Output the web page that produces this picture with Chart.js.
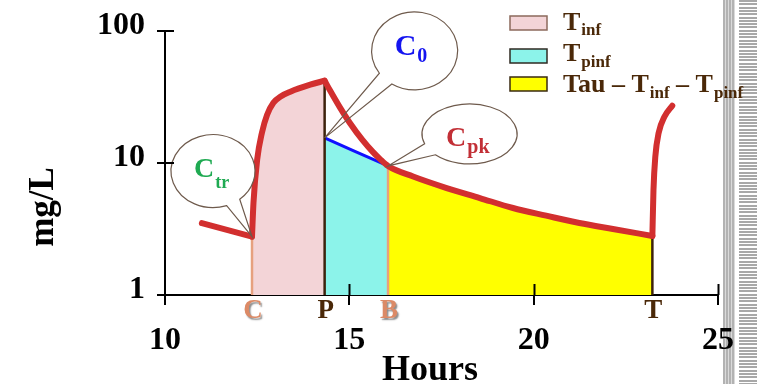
<!DOCTYPE html>
<html>
<head>
<meta charset="utf-8">
<script src="https://cdn.jsdelivr.net/npm/chart.js@4/dist/chart.umd.min.js"></script>
<style>
body { margin: 0; background: #fff; }
#wrap { position: relative; width: 757px; height: 384px; }
#stripe_v { position: absolute; left: 723px; top: 0; width: 12px; height: 384px;
    background: repeating-linear-gradient(to right, #b2b2b2 0 2px, #dadada 2px 3px); }
#stripe_h { position: absolute; left: 739px; top: 0; width: 18px; height: 384px;
    background: repeating-linear-gradient(to bottom, #a8a8a8 0 2px, #fff 2px 3.3px); }
#chart { position: absolute; left: 0; top: 0; }
</style>
</head>
<body>
<div id="wrap">
    <div id="stripe_v"></div>
    <div id="stripe_h"></div>
    <canvas id="chart" width="757" height="384"></canvas>
</div>
<script>
// Concentration curve (hours, mg/L)
const curve_hours = [11.0, 12.36, 12.40, 12.50, 12.63, 12.77, 12.94, 13.15, 13.40, 13.94, 14.33,
                     14.47, 14.74, 15.01, 15.36, 15.63, 15.82, 16.05, 16.73, 17.64, 18.54,
                     19.44, 20.34, 21.24, 22.15, 23.22, 23.25, 23.30, 23.39, 23.55, 23.76];
const curve_conc  = [3.5, 2.77, 5.0, 10.6, 17.0, 23.2, 28.6, 32.1, 34.7, 39.2, 42.0,
                     35.7, 26.5, 20.2, 14.9, 12.2, 10.8, 9.5, 7.9, 6.46, 5.43,
                     4.56, 3.99, 3.51, 3.16, 2.8, 6.26, 11.2, 16.9, 22.5, 27.2];

// Marked times on the x axis and the height of their vertical lines
const mark_labels = ['C', 'P', 'B', 'T'];
const mark_hours  = [12.36, 14.33, 16.05, 23.22];
const mark_conc   = [2.77, 42.0, 9.5, 2.8];

// Back-extrapolated line C0 -> Cpk
const c0  = 15.5;
const cpk = 9.5;
const ctr = 2.77;

// Axis ticks
const x_ticks = [10, 15, 20, 25];
const y_ticks = [1, 10, 100];

const serif = '"Liberation Serif", "Times New Roman", serif';

function pts(hs, cs) {
    return hs.map(function (h, i) { return {x: h, y: cs[i]}; });
}
function between(a, b) {
    return all_pts.filter(p => p.x >= a && p.x <= b);
}
const all_pts  = pts(curve_hours, curve_conc);
const inf_pts  = between(mark_hours[0], mark_hours[1]);
const tail_pts = between(mark_hours[2], mark_hours[3]);
const pinf_pts = [{x: mark_hours[1], y: c0}, {x: mark_hours[2], y: cpk}];

// red curve pieces: trough, infusion, decay, next dose
const pieces = [
    between(curve_hours[0], mark_hours[0]),
    inf_pts,
    between(mark_hours[1], mark_hours[3]),
    between(mark_hours[3], curve_hours[curve_hours.length - 1])
];

const mark_colors = ['#e6a07e', '#3d220c', '#e6a07e', '#3d220c'];
const mark_text_colors = ['#dc8a66', '#4a2808', '#dc8a66', '#4a2808'];

let datasets = [
    {data: inf_pts, fill: 'start', backgroundColor: '#f3d4d7', borderWidth: 0, order: 5},
    {data: tail_pts, fill: 'start', backgroundColor: '#ffff00', borderWidth: 0, order: 5},
    {data: pinf_pts, fill: 'start', backgroundColor: '#8cf3ea', borderColor: '#1010ff', borderWidth: 3, order: 4},
];
mark_hours.forEach(function (h, i) {
    datasets.push({
        data: [{x: h, y: 1}, {x: h, y: mark_conc[i]}],
        borderColor: mark_colors[i], borderWidth: 2.5, fill: false, order: 3
    });
});
pieces.forEach(function (p) {
    datasets.push({
        data: p, borderColor: '#d22f2f', borderWidth: 6, fill: false, order: 1,
        borderJoinStyle: 'round', borderCapStyle: 'round'
    });
});

// Speech bubbles: anchored on data points, offsets in pixels
const bubbles = [
    {h: mark_hours[0], c: ctr, dx: -39, dy: -65.5, rx: 42, ry: 36.5, a1: 71, a2: 50.5,
     sub: 'tr', color: '#1faa52', size: 28, sub_size: 18, tx: -19, ty: 5.5, sy: 16.5},
    {h: mark_hours[1], c: c0, dx: 90, dy: -87, rx: 43, ry: 39, a1: 145, a2: 122,
     sub: '0', color: '#1414f0', size: 30, sub_size: 20, tx: -20, ty: 4, sy: 11},
    {h: mark_hours[2], c: cpk, dx: 81.5, dy: -32, rx: 47.5, ry: 30, a1: 161, a2: 136,
     sub: 'pk', color: '#c22f36', size: 28, sub_size: 20, tx: -23.5, ty: 12, sy: 19},
];

function draw_runs(ctx, x, y, runs, color) {
    ctx.fillStyle = color;
    ctx.textAlign = 'left';
    ctx.textBaseline = 'alphabetic';
    runs.forEach(function (r) {
        ctx.font = 'bold ' + r[1] + 'px ' + serif;
        ctx.fillText(r[0], x, y + r[2]);
        x += ctx.measureText(r[0]).width + (r[3] || 0);
    });
}

function draw_bubble(ctx, tx, ty, b) {
    const cx = tx + b.dx, cy = ty + b.dy;
    ctx.beginPath();
    ctx.ellipse(cx, cy, b.rx, b.ry, 0, 0, 2 * Math.PI);
    ctx.fillStyle = '#fff';
    ctx.fill();
    ctx.beginPath();
    ctx.ellipse(cx, cy, b.rx, b.ry, 0, b.a1 * Math.PI / 180, b.a2 * Math.PI / 180, false);
    ctx.lineTo(tx, ty);
    ctx.closePath();
    ctx.strokeStyle = '#6e5a4c';
    ctx.lineWidth = 1.2;
    ctx.stroke();
    draw_runs(ctx, cx + b.tx, cy + b.ty, [['C', b.size, 0, 1], [b.sub, b.sub_size, b.sy - b.ty]], b.color);
}

const extras = {
    id: 'extras',
    afterDatasetsDraw(chart) {
        const ctx = chart.ctx;
        const xs = chart.scales.x, ys = chart.scales.y;
        const area = chart.chartArea;
        ctx.save();

        // callouts
        bubbles.forEach(function (b) {
            draw_bubble(ctx, xs.getPixelForValue(b.h), ys.getPixelForValue(b.c), b);
        });

        // inner half of the tick marks
        ctx.strokeStyle = '#000';
        ctx.lineWidth = 2;
        x_ticks.slice(1).forEach(function (v) {
            const px = Math.round(xs.getPixelForValue(v)) + 0.5;
            ctx.beginPath(); ctx.moveTo(px, area.bottom); ctx.lineTo(px, area.bottom - 11); ctx.stroke();
        });
        y_ticks.forEach(function (v) {
            const py = Math.round(ys.getPixelForValue(v));
            ctx.beginPath(); ctx.moveTo(area.left, py); ctx.lineTo(area.left + 9, py); ctx.stroke();
        });

        // letters under the x axis
        ctx.font = 'bold 27px ' + serif;
        ctx.textAlign = 'center';
        ctx.textBaseline = 'alphabetic';
        mark_labels.forEach(function (t, i) {
            ctx.save();
            if (i % 2 == 0) {
                ctx.shadowColor = 'rgba(0,0,0,0.45)';
                ctx.shadowOffsetX = 1.5; ctx.shadowOffsetY = 1.5; ctx.shadowBlur = 1.5;
            }
            ctx.fillStyle = mark_text_colors[i];
            ctx.fillText(t, xs.getPixelForValue(mark_hours[i]) + 1, area.bottom + 23);
            ctx.restore();
        });

        // legend
        const box_fill = ['#f3d4d7', '#8cf3ea', '#ffff00'];
        const box_line = ['#8c6a5c', '#2f2a22', '#3a2a10'];
        const box_top = [16, 49, 77];
        box_top.forEach(function (y, i) {
            ctx.fillStyle = box_fill[i];
            ctx.fillRect(510, y, 37, 14);
            ctx.strokeStyle = box_line[i];
            ctx.lineWidth = 1.5;
            ctx.strokeRect(510, y, 37, 14);
        });
        const brown = '#4a2808';
        draw_runs(ctx, 563, 30, [['T', 26, 0, 1], ['inf', 17, 5]], brown);
        draw_runs(ctx, 563, 61, [['T', 26, 0, 1], ['pinf', 17, 6]], brown);
        draw_runs(ctx, 563, 92, [['Tau \u2013 T', 26, 0, 1], ['inf', 17, 6], [' \u2013 T', 26, 0, 1], ['pinf', 17, 6]], brown);

        // axis titles
        ctx.fillStyle = '#000';
        ctx.font = 'bold 36px ' + serif;
        ctx.textAlign = 'center';
        ctx.fillText('Hours', 430, 380);
        ctx.translate(53, 207);
        ctx.rotate(-Math.PI / 2);
        ctx.font = 'bold 35px ' + serif;
        ctx.fillText('mg/L', 0, 0);
        ctx.restore();
    }
};

const tick_font = {family: serif, size: 32, weight: 'bold'};

new Chart(document.getElementById('chart'), {
    type: 'line',
    data: {datasets: datasets},
    options: {
        responsive: false,
        animation: false,
        events: [],
        layout: {padding: {top: 31, right: 39, left: 0, bottom: 0}},
        elements: {point: {radius: 0}, line: {cubicInterpolationMode: 'monotone'}},
        plugins: {legend: {display: false}, tooltip: {enabled: false}},
        scales: {
            x: {
                type: 'linear', min: 10, max: 25,
                afterFit: function (s) { s.height = 89; },
                afterBuildTicks: function (s) { s.ticks = x_ticks.map(v => ({value: v})); },
                ticks: {font: tick_font, color: '#000', padding: 17},
                grid: {drawOnChartArea: false, tickLength: 10, color: '#000', lineWidth: 2},
                border: {color: '#000', width: 2}
            },
            y: {
                type: 'logarithmic', min: 1, max: 100,
                afterFit: function (s) { s.width = 165; },
                afterBuildTicks: function (s) { s.ticks = y_ticks.map(v => ({value: v})); },
                ticks: {
                    font: {family: serif, size: 32, weight: 'bold', lineHeight: 0.3},
                    color: '#000', padding: 12,
                    callback: function (v) { return [String(v), '']; }
                },
                grid: {drawOnChartArea: false, tickLength: 8, color: '#000', lineWidth: 2},
                border: {color: '#000', width: 2}
            }
        }
    },
    plugins: [extras]
});
</script>
</body>
</html>
